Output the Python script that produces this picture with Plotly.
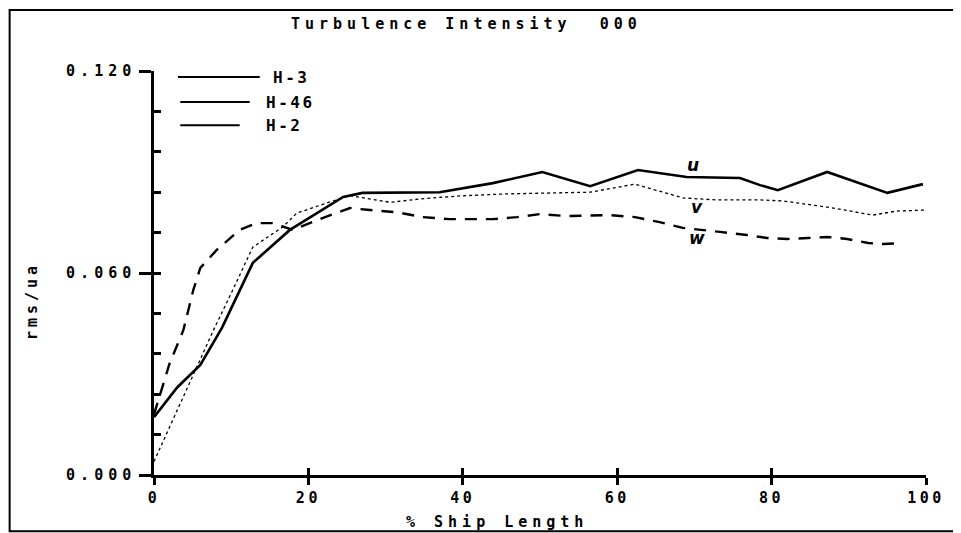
import plotly.graph_objects as go

# u 分量 (粗实线)
u_x = [0, 3, 6, 8.8, 12.8, 17.6, 24.5, 27, 37, 43.9, 50.3, 53.5, 56.5, 62.7, 69, 75.9, 78.5, 80.8, 87.2, 95, 99.6]
u_y = [0.0172, 0.026, 0.0327, 0.0437, 0.063, 0.0728, 0.0826, 0.0838, 0.084, 0.0867, 0.090, 0.0878, 0.0858,
       0.0906, 0.0885, 0.0882, 0.0861, 0.0846, 0.090, 0.0838, 0.0864]

# v 分量 (点线)
v_x = [0, 7.9, 9.8, 12.8, 16.7, 18.5, 22.4, 25.4, 26.7, 30.6, 34.5, 39.6, 45.7, 51.7, 56.5, 62.3, 68.5,
       72.9, 78.5, 81.5, 88, 93.1, 96.2, 100]
v_y = [0.004, 0.044, 0.053, 0.0677, 0.0737, 0.0778, 0.0808, 0.083, 0.0825, 0.081, 0.082, 0.0829, 0.0835,
       0.0838, 0.084, 0.0864, 0.0823, 0.0817, 0.0817, 0.0814, 0.0793, 0.0772, 0.0784, 0.0787]

# w 分量 (虚线)
w_x = [0, 2, 3.8, 5.1, 6, 8.1, 11.1, 13.3, 15.4, 18, 21.1, 25.4, 28, 31.6, 34.8, 38.3, 43.9, 47, 50, 53.5,
       59, 62.3, 65.5, 68.5, 73.3, 76.8, 79.4, 82, 84.7, 87.2, 89.8, 92.5, 94.4, 96.9]
w_y = [0.018, 0.033, 0.043, 0.055, 0.0615, 0.0668, 0.0728, 0.0748, 0.0748, 0.0728, 0.0757, 0.0793, 0.0787,
       0.078, 0.0766, 0.076, 0.076, 0.0766, 0.0775, 0.0769, 0.0772, 0.0766, 0.0751, 0.0734, 0.0722, 0.0713,
       0.0704, 0.0701, 0.0704, 0.0707, 0.0701, 0.0689, 0.0686, 0.0689]

x_ticks = [0, 20, 40, 60, 80, 100]
y_ticks = [0.0, 0.06, 0.12]
legend_names = ["H-3", "H-46", "H-2"]
comp_labels = [("u", 69.8, 0.0921), ("v", 70.3, 0.0796), ("w", 70.3, 0.0704)]

FONT = "DejaVu Sans Mono"


def spaced(s, sp=5):
    return f'<span style="font-weight:900;letter-spacing:{sp}px">{s}</span>'


fig = go.Figure()
fig.add_trace(go.Scatter(x=u_x, y=u_y, mode="lines", line=dict(color="black", width=2.6), showlegend=False))
fig.add_trace(go.Scatter(x=v_x, y=v_y, mode="lines", line=dict(color="black", width=1.3, dash="dot"),
                         showlegend=False))
fig.add_trace(go.Scatter(x=w_x, y=w_y, mode="lines", line=dict(color="black", width=2.4, dash="12px,9px"),
                         showlegend=False))
# 叠加坐标轴用于内侧刻度
fig.add_trace(go.Scatter(x=[], y=[], xaxis="x2", yaxis="y2", showlegend=False))

axis_common = dict(showgrid=False, zeroline=False, linecolor="black", linewidth=2.5,
                   tickcolor="black", tickwidth=2.5)

# 页面 body 有 8px 边距，这里减掉
fig.update_layout(
    width=953, height=525,
    margin=dict(l=146, r=35, t=63, b=58),
    paper_bgcolor="white", plot_bgcolor="white",
    font=dict(family=FONT, color="black", size=15, weight="bold"),
    xaxis=dict(range=[0, 100], tickvals=x_ticks, ticktext=[spaced(str(t), 3.5) for t in x_ticks],
               ticks="outside", ticklen=7, showline=True, **axis_common),
    yaxis=dict(range=[0, 0.12], tickvals=y_ticks, ticktext=[spaced(f"{t:.3f}", 5) for t in y_ticks],
               ticks="outside", ticklen=12, showline=True, **axis_common),
    xaxis2=dict(range=[0, 100], overlaying="x", anchor="y2", side="bottom", dtick=20, tick0=0,
                ticks="inside", ticklen=7, showticklabels=False, showline=False, **axis_common),
    yaxis2=dict(range=[0, 0.12], overlaying="y", anchor="x2", side="left", dtick=0.012, tick0=0,
                ticks="inside", ticklen=7, showticklabels=False, showline=False, **axis_common),
)

# 外框
fig.add_shape(type="rect", xref="paper", yref="paper", x0=-0.187, x1=1.3, y0=-0.139, y1=1.151,
              line=dict(color="black", width=2))

# 标题与轴标题
fig.add_annotation(text=spaced("Turbulence Intensity  000"), xref="paper", yref="paper", x=0.405, y=1.144,
                   showarrow=False, font=dict(size=15, weight="bold"))
fig.add_annotation(text=spaced("% Ship Length"), xref="paper", yref="paper", x=0.444, y=-0.143,
                   showarrow=False, font=dict(size=15, weight="bold"))
fig.add_annotation(text=spaced("rms/ua", 4), xref="paper", yref="paper", x=-0.172,
                   y=0.431, textangle=-90, showarrow=False, font=dict(size=15, weight="bold"))

# 图例 (实线 + 标签)
leg_lines = [(0.031, 0.137, 0.985), (0.034, 0.124, 0.923), (0.034, 0.111, 0.866)]
leg_text_x = [0.152, 0.143, 0.143]
for name, (x0, x1, yy), tx in zip(legend_names, leg_lines, leg_text_x):
    fig.add_shape(type="line", xref="paper", yref="paper", x0=x0, x1=x1, y0=yy, y1=yy,
                  line=dict(color="black", width=2))
    fig.add_annotation(text=spaced(name, 2.5), xref="paper", yref="paper", x=tx, y=yy + 0.027,
                       xanchor="left", showarrow=False, font=dict(size=16, weight="bold"))

# 分量标注
for lab, lx, ly in comp_labels:
    fig.add_annotation(text=f"<b><i>{lab}</i></b>", x=lx, y=ly, showarrow=False,
                       font=dict(size=17, family="DejaVu Sans"))

fig.write_html("out.html")
